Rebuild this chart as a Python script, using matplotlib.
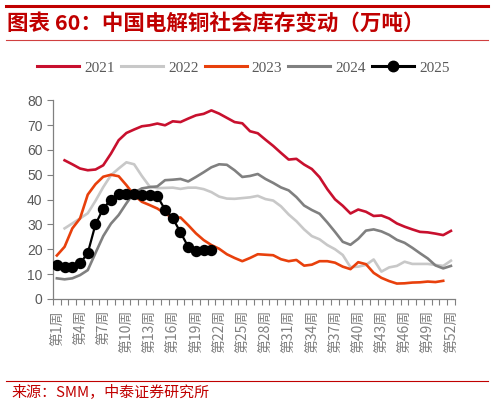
import numpy as np
import matplotlib
matplotlib.use("Agg")
import matplotlib.pyplot as plt
from matplotlib.lines import Line2D

plt.rcParams["font.family"] = ["Liberation Sans", "Noto Sans CJK SC"]

nan = np.nan

weeks = list(range(1, 53))
tick_weeks = list(range(1, 53, 3))
tick_labels = [f"第{w}周" for w in tick_weeks]

v2021 = [nan, 55.8, 54.2, 52.5, 51.8, 52.1, 53.8, 58.5, 63.9, 66.8,
         68.2, 69.5, 69.9, 70.6, 69.9, 71.5, 71.2, 72.6, 73.9, 74.5,
         75.9, 74.6, 72.9, 71.2, 70.7, 67.5, 66.7, 64.1, 61.6, 58.8,
         56.1, 56.4, 54.1, 52.3, 49.0, 44.2, 40.1, 37.5, 34.4, 36.0,
         35.1, 33.4, 33.6, 32.4, 30.4, 29.1, 28.0, 27.0, 26.8, 26.3,
         25.7, 27.4]
v2022 = [nan, 28.4, 30.4, 32.4, 34.5, 39.5, 45.0, 49.8, 52.5, 55.0,
         54.2, 49.5, 45.3, 44.6, 44.7, 44.8, 44.3, 44.8, 44.8, 44.2,
         43.0, 41.2, 40.4, 40.3, 40.6, 40.9, 41.5, 40.2, 39.6, 37.3,
         34.0, 31.3, 28.0, 25.3, 24.0, 21.7, 20.0, 17.7, 12.8, 13.0,
         13.7, 15.9, 11.0, 12.7, 13.3, 15.0, 14.1, 14.1, 14.1, 13.7,
         13.3, 15.4]
v2023 = [17.5, 21.0, 28.4, 32.4, 42.0, 46.2, 49.2, 50.0, 49.4, 45.8,
         41.8, 39.1, 37.8, 36.4, 34.4, 32.6, 32.8, 29.7, 26.4, 23.7,
         21.7, 20.2, 18.0, 16.5, 15.2, 16.5, 18.0, 17.8, 17.6, 16.0,
         15.2, 15.7, 13.4, 13.8, 15.2, 15.2, 14.6, 13.0, 12.0, 14.8,
         14.0, 10.5, 8.5, 7.2, 6.2, 6.3, 6.6, 6.7, 7.0, 6.8,
         7.3, nan]
v2024 = [8.3, 7.9, 8.3, 9.6, 11.6, 18.5, 25.3, 30.3, 33.8, 38.5,
         42.8, 44.5, 45.0, 45.3, 47.8, 48.0, 48.3, 47.3, 49.1, 51.0,
         53.0, 54.2, 54.0, 51.8, 49.1, 49.5, 50.3, 48.3, 46.7, 44.9,
         43.7, 41.0, 37.6, 35.8, 34.3, 30.8, 27.0, 23.0, 21.8, 24.2,
         27.5, 28.0, 27.2, 25.8, 23.8, 22.6, 20.6, 18.4, 16.3, 13.5,
         12.3, 13.3]
v2025 = [13.7, 13.0, 12.7, 14.3, 18.5, 30.0, 36.4, 40.0, 42.2, 42.3,
         42.2, 42.0, 41.8, 41.3, 36.0, 32.5, 26.8, 21.0, 19.5, 19.8,
         19.8]

years = ["2021", "2022", "2023", "2024", "2025"]
colors = ["#C8102E", "#C8C8C8", "#E8400C", "#808080", "#000000"]
series = [v2021, v2022, v2023, v2024, v2025]

fig = plt.figure(figsize=(4.93, 4.04), dpi=100)
ax = fig.add_axes([0.1075, 0.26, 0.815, 0.492])

for name, col, vals in zip(years, colors, series):
    x = weeks[:len(vals)]
    if name == "2025":
        ax.plot(x, vals, color=col, lw=1.6, marker="o", ms=7.2,
                zorder=5, label=name)
    else:
        ax.plot(x, vals, color=col, lw=1.9, label=name)

ax.set_xlim(0.5, 52.5)
ax.set_ylim(0, 80)
ax.set_yticks(range(0, 81, 10))
ax.set_xticks(tick_weeks)
ax.set_xticklabels(tick_labels, rotation=90, fontsize=10, color="#808080",
                   family=["Noto Sans CJK SC"])
ax.set_xticks(np.arange(0.5, 53.0, 1.0), minor=True)
ax.tick_params(axis="x", which="major", length=0, pad=8)
ax.tick_params(axis="x", which="minor", length=4, color="#808080", width=0.8)
ax.tick_params(axis="y", length=4, color="#808080", width=0.8,
               labelsize=10, labelcolor="#595959")

for s in ["top", "right"]:
    ax.spines[s].set_visible(False)
for s in ["left", "bottom"]:
    ax.spines[s].set_color("#808080")
    ax.spines[s].set_linewidth(0.9)

handles = [Line2D([], [], color=c, lw=2.2,
                  marker="o" if y == "2025" else None, ms=7.5)
           for y, c in zip(years, colors)]
fig.legend(handles, years, loc="center", bbox_to_anchor=(0.494, 0.832),
           ncol=5, frameon=False, handlelength=2.75, handletextpad=0.33,
           columnspacing=0.4,
           prop={"family": "Liberation Serif", "size": 11},
           labelcolor="#595959")

# header and footer
fig.add_artist(Line2D([0.012, 0.99], [0.985, 0.985], color="#C00000", lw=2.2))
fig.add_artist(Line2D([0.012, 0.99], [0.9, 0.9], color="#D04040", lw=0.8))
fig.text(0.015, 0.942, "图表 60：中国电解铜社会库存变动（万吨）",
         family=["Noto Sans CJK SC"], fontsize=15.5, fontweight="bold",
         style="italic", color="#C00000", va="center")
fig.add_artist(Line2D([0.012, 0.99], [0.057, 0.057], color="#C00000", lw=0.8))
fig.text(0.024, 0.03, "来源：SMM，中泰证券研究所",
         family=["Noto Sans CJK SC"], fontsize=10.8, color="#C00000",
         va="center")

fig.savefig("out.png", dpi=100)
